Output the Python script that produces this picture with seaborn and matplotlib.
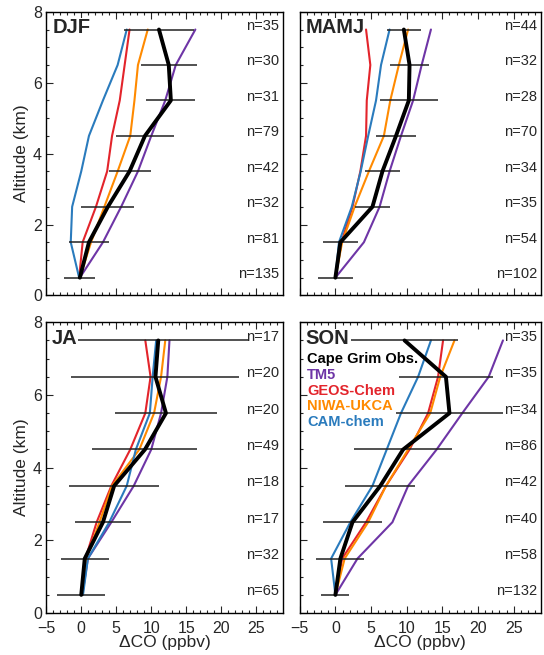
import matplotlib
matplotlib.use('Agg')
import matplotlib.pyplot as plt
from matplotlib.ticker import MultipleLocator
import numpy as np
import pandas as pd
import seaborn as sns

# altitude bins (km), bottom to top
altitude = [0.5, 1.5, 2.5, 3.5, 4.5, 5.5, 6.5, 7.5]
seasons = ['DJF', 'MAMJ', 'JA', 'SON']

# Cape Grim observations: mean and spread (ppbv)
obs_mean = {
    'DJF': [-0.2, 1.1, 3.8, 6.9, 9.1, 12.8, 12.5, 11.1],
    'MAMJ': [0.0, 0.7, 5.2, 6.6, 8.5, 10.3, 10.4, 9.6],
    'JA': [0.0, 0.5, 3.1, 4.7, 9.1, 12.1, 10.6, 11.0],
    'SON': [0.0, 0.7, 2.4, 6.3, 9.5, 16.0, 15.5, 9.7],
}
obs_std = {
    'DJF': [2.2, 2.8, 3.8, 3.0, 4.1, 3.5, 4.0, 5.0],
    'MAMJ': [2.5, 2.5, 2.5, 2.4, 2.75, 4.1, 2.7, 2.4],
    'JA': [3.45, 3.4, 3.95, 6.45, 7.5, 7.3, 12.0, 13.0],
    'SON': [1.95, 3.35, 4.2, 4.9, 6.9, 7.5, 6.55, 7.5],
}
n_obs = {
    'DJF': [135, 81, 32, 42, 79, 31, 30, 35],
    'MAMJ': [102, 54, 35, 34, 70, 28, 32, 44],
    'JA': [65, 32, 17, 18, 49, 20, 20, 17],
    'SON': [132, 58, 40, 42, 86, 34, 35, 35],
}

tm5 = {
    'DJF': [-0.2, 3.1, 5.7, 8.1, 10.0, 12.0, 13.5, 16.3],
    'MAMJ': [0.0, 4.0, 6.2, 7.6, 9.2, 10.9, 12.1, 13.4],
    'JA': [0.15, 0.95, 4.3, 7.5, 10.0, 11.4, 12.3, 12.6],
    'SON': [0.0, 3.1, 8.0, 10.2, 14.2, 17.8, 21.5, 23.5],
}
geos_chem = {
    'DJF': [-0.3, 0.2, 2.1, 3.7, 4.4, 5.5, 6.2, 6.9],
    'MAMJ': [0.0, 0.85, 2.4, 3.5, 4.3, 4.4, 4.9, 4.3],
    'JA': [0.0, 0.6, 2.2, 4.3, 7.0, 9.15, 9.9, 9.15],
    'SON': [0.0, 0.95, 4.3, 7.1, 10.4, 13.0, 14.4, 15.1],
}
niwa_ukca = {
    'DJF': [-0.2, 1.4, 3.3, 5.2, 7.0, 7.6, 8.1, 9.5],
    'MAMJ': [0.0, 0.95, 2.7, 4.7, 6.8, 7.7, 8.9, 10.2],
    'JA': [0.15, 0.7, 2.6, 4.4, 8.3, 10.4, 11.4, 12.0],
    'SON': [0.0, 1.3, 4.6, 7.1, 10.2, 13.3, 14.7, 16.7],
}
cam_chem = {
    'DJF': [-0.3, -1.5, -1.3, 0.0, 1.1, 3.1, 5.2, 6.5],
    'MAMJ': [0.0, 0.5, 2.3, 3.55, 4.6, 5.7, 6.4, 7.6],
    'JA': [0.25, 0.95, 4.0, 6.5, 7.8, 9.8, 10.2, 10.7],
    'SON': [0.0, -0.6, 2.1, 5.2, 7.2, 9.2, 11.6, 13.4],
}

models = ['TM5', 'GEOS-Chem', 'NIWA-UKCA', 'CAM-chem']
model_data = {'TM5': tm5, 'GEOS-Chem': geos_chem, 'NIWA-UKCA': niwa_ukca, 'CAM-chem': cam_chem}
colors = {'TM5': '#6e35a6', 'GEOS-Chem': '#e3242b', 'NIWA-UKCA': '#ff8a00', 'CAM-chem': '#2a7bbd'}

rows = []
for s in seasons:
    for m in models:
        for a, v in zip(altitude, model_data[m][s]):
            rows.append({'season': s, 'model': m, 'alt': a, 'dco': v})
df = pd.DataFrame(rows)

sns.set_style('ticks')
plt.rcParams['font.family'] = ['Liberation Sans', 'DejaVu Sans']
plt.rcParams['xtick.direction'] = 'in'
plt.rcParams['ytick.direction'] = 'in'

fig = plt.figure(figsize=(5.44, 6.55), dpi=100)
positions = [
    [0.085, 0.549, 0.435, 0.433],
    [0.551, 0.549, 0.443, 0.433],
    [0.085, 0.064, 0.435, 0.444],
    [0.551, 0.064, 0.443, 0.444],
]

for i, s in enumerate(seasons):
    ax = fig.add_axes(positions[i])
    sub = df[df['season'] == s]
    sns.lineplot(data=sub, x='dco', y='alt', hue='model', hue_order=models,
                 palette=colors, orient='y', estimator=None, sort=False,
                 linewidth=1.5, legend=False, ax=ax, zorder=2)
    ax.errorbar(obs_mean[s], altitude, xerr=obs_std[s], fmt='none',
                ecolor='#222222', elinewidth=1.1, capsize=0, zorder=3)
    sns.lineplot(x=obs_mean[s], y=altitude, orient='y', estimator=None, sort=False,
                 color='black', linewidth=2.8, ax=ax, zorder=4)

    ax.set_xlim(-5, 28.8)
    ax.set_ylim(0, 8)
    ax.xaxis.set_major_locator(MultipleLocator(5))
    ax.xaxis.set_minor_locator(MultipleLocator(1))
    ax.yaxis.set_major_locator(MultipleLocator(2))
    ax.yaxis.set_minor_locator(MultipleLocator(0.5))
    ax.tick_params(which='both', top=True, right=False, labelsize=11.5, width=0.8)
    ax.tick_params(which='major', length=5)
    ax.tick_params(which='minor', length=2.5)
    ax.tick_params(axis='x', pad=6)
    ax.tick_params(axis='y', pad=3)
    for sp in ax.spines.values():
        sp.set_linewidth(1.0)
        sp.set_color('black')

    if i < 2:
        ax.set_xticklabels([])
        ax.set_xlabel('')
    else:
        ax.set_xlabel('ΔCO (ppbv)', fontsize=12.5, labelpad=-1)
    if i % 2 == 0:
        ax.set_ylabel('Altitude (km)', fontsize=12.5, labelpad=3)
    else:
        ax.set_yticklabels([])
        ax.set_ylabel('')

    ax.text(0.025, 7.55, s, transform=ax.get_yaxis_transform(), ha='left', va='center',
            fontsize=14.5, fontweight='bold', zorder=6,
            bbox=dict(facecolor='white', edgecolor='none', pad=0.5))
    for a, n in zip(altitude, n_obs[s]):
        ax.text(0.985, a + 0.1, f'n={n}', transform=ax.get_yaxis_transform(),
                ha='right', va='center', fontsize=10.5, zorder=6)

    if s == 'SON':
        labels = ['Cape Grim Obs.'] + models
        lcolors = ['black'] + [colors[m] for m in models]
        for k, (lab, c) in enumerate(zip(labels, lcolors)):
            ax.text(0.03, 0.873 - k * 0.054, lab, transform=ax.transAxes,
                    ha='left', va='center', fontsize=10.5, fontweight='bold',
                    color=c, zorder=6)

fig.savefig('out.png', dpi=100)
